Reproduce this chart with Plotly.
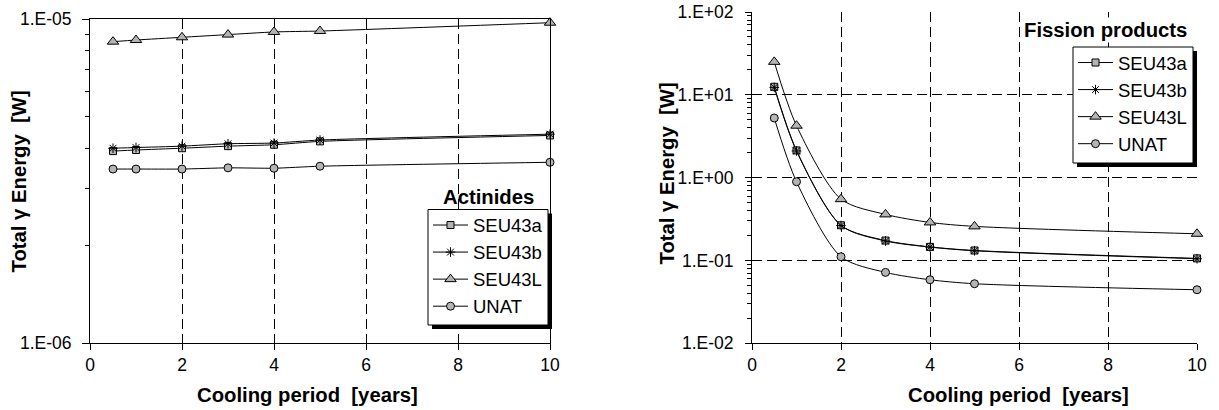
import plotly.graph_objects as go

W, H = 1219, 410
FONT = "Arial, Liberation Sans, sans-serif"

years = [0.5, 1, 2, 3, 4, 5, 10]
series = ["SEU43a", "SEU43b", "SEU43L", "UNAT"]

act_SEU43a = [3.92e-6, 3.95e-6, 4.00e-6, 4.06e-6, 4.10e-6, 4.20e-6, 4.38e-6]
act_SEU43b = [4.00e-6, 4.02e-6, 4.06e-6, 4.13e-6, 4.15e-6, 4.24e-6, 4.42e-6]
act_SEU43L = [8.53e-6, 8.63e-6, 8.80e-6, 8.97e-6, 9.14e-6, 9.20e-6, 9.76e-6]
act_UNAT = [3.45e-6, 3.45e-6, 3.45e-6, 3.48e-6, 3.47e-6, 3.52e-6, 3.62e-6]

fp_SEU43a = [12.5, 2.13, 0.266, 0.174, 0.146, 0.132, 0.106]
fp_SEU43b = [12.3, 2.10, 0.264, 0.172, 0.145, 0.131, 0.105]
fp_SEU43L = [25.0, 4.24, 0.55, 0.36, 0.288, 0.258, 0.21]
fp_UNAT = [5.25, 0.893, 0.111, 0.0718, 0.0585, 0.0524, 0.0443]

act_ticks = [1e-6, 1e-5]
act_ticktext = ["1.E-06", "1.E-05"]
fp_ticks = [1e-2, 1e-1, 1e0, 1e1, 1e2]
fp_ticktext = ["1.E-02", "1.E-01", "1.E+00", "1.E+01", "1.E+02"]
x_ticks = [0, 2, 4, 6, 8, 10]

GRAY = "#b4b4b4"
styles = {
    "SEU43a": dict(symbol="square", size=7, color=GRAY, line=dict(color="black", width=1)),
    "SEU43b": dict(symbol="asterisk-open", size=8, color="black", line=dict(color="black", width=1)),
    "SEU43L": dict(symbol="triangle-up", size=10, color=GRAY, line=dict(color="black", width=1)),
    "UNAT": dict(symbol="circle", size=8, color=GRAY, line=dict(color="black", width=1)),
}

def px(x):
    return x / W

def py(y):
    return 1 - y / H

fig = go.Figure()

act = dict(zip(series, [act_SEU43a, act_SEU43b, act_SEU43L, act_UNAT]))
fp = dict(zip(series, [fp_SEU43a, fp_SEU43b, fp_SEU43L, fp_UNAT]))

for s in series:
    fig.add_trace(go.Scatter(
        x=years, y=act[s], name=s, mode="lines+markers",
        line=dict(color="black", width=1, shape="spline", smoothing=0.6),
        marker=styles[s], xaxis="x", yaxis="y", legend="legend",
        legendgroup="a" + s, cliponaxis=False))
for s in series:
    fig.add_trace(go.Scatter(
        x=years, y=fp[s], name=s, mode="lines+markers",
        line=dict(color="black", width=1, shape="spline", smoothing=0.8),
        marker=styles[s], xaxis="x2", yaxis="y2", legend="legend2",
        legendgroup="f" + s, cliponaxis=False))

tickfont = dict(family=FONT, size=17.5, color="black")
dash = "10px,5px"

common_x = dict(range=[0, 10], tickvals=x_ticks, ticks="outside", ticklen=6,
                tickcolor="black", showline=True, linecolor="black", linewidth=1,
                tickfont=tickfont, zeroline=False, showgrid=True,
                gridcolor="black", gridwidth=1, griddash=dash,
                ticklabelstandoff=0, automargin=False)

legend_common = dict(xanchor="left", yanchor="top",
                     bgcolor="rgba(0,0,0,0)", borderwidth=0,
                     font=dict(family=FONT, size=18.5, color="black"),
                     traceorder="grouped", tracegroupgap=0, itemwidth=35)

# legend box geometry in pixels: (left, top, right, bottom)
box_act = (428, 209.5, 548, 325)
box_fp = (1073, 47, 1193, 163)

fig.update_layout(
    template="none",
    width=W, height=H, margin=dict(l=0, r=0, t=0, b=0, pad=0, autoexpand=False),
    paper_bgcolor="white", plot_bgcolor="white",
    font=dict(family=FONT, size=16, color="black"),
    xaxis=dict(domain=[px(90), px(550)], anchor="y", mirror=True, **common_x),
    yaxis=dict(domain=[py(343.3), py(19.3)], anchor="x", type="log",
               range=[-6, -5], tickvals=act_ticks, ticktext=act_ticktext,
               ticks="outside", ticklen=7, tickcolor="black",
               showline=True, linecolor="black", linewidth=1, mirror=True,
               showgrid=False, zeroline=False, tickfont=tickfont,
               ticklabelstandoff=7, automargin=False,
               minor=dict(tickvals=[k * 1e-6 for k in range(2, 10)],
                          ticks="outside", ticklen=4, tickcolor="black",
                          showgrid=False)),
    xaxis2=dict(domain=[px(752), px(1197)], anchor="y2", **common_x),
    yaxis2=dict(domain=[py(343.3), py(12)], anchor="x2", type="log",
                range=[-2, 2], tickvals=fp_ticks, ticktext=fp_ticktext,
                ticks="outside", ticklen=6, tickcolor="black",
                showline=True, linecolor="black", linewidth=1,
                showgrid=True, gridcolor="black", gridwidth=1, griddash=dash,
                zeroline=False, tickfont=tickfont, ticklabelstandoff=8,
                automargin=False,
                minor=dict(tickvals=[k * 10.0 ** e for e in range(-2, 2) for k in range(2, 10)],
                           ticks="outside", ticklen=4, tickcolor="black",
                           showgrid=False)),
    legend=dict(x=px(box_act[0]), y=py(box_act[1] - 3), **legend_common),
    legend2=dict(x=px(box_fp[0]), y=py(box_fp[1] - 3), **legend_common),
    showlegend=True,
)

# legend frames with drop shadows
for (l, t, r, b) in [box_act, box_fp]:
    fig.add_shape(type="rect", xref="paper", yref="paper",
                  x0=px(l + 4), x1=px(r + 4), y0=py(b + 4), y1=py(t + 4),
                  fillcolor="black", line=dict(width=0), layer="above")
    fig.add_shape(type="rect", xref="paper", yref="paper",
                  x0=px(l), x1=px(r), y0=py(b), y1=py(t),
                  fillcolor="white", line=dict(color="black", width=1), layer="above")

bold = dict(family=FONT, size=20.3, color="black", weight="bold")
ann = [
    dict(text="Total γ Energy  [W]", x=px(19), y=py(181.5), textangle=-90),
    dict(text="Total γ Energy  [W]", x=px(666.5), y=py(174), textangle=-90),
    dict(text="Cooling period  [years]", x=px(307), y=py(395)),
    dict(text="Cooling period  [years]", x=px(1018), y=py(395)),
]
for a in ann:
    fig.add_annotation(xref="paper", yref="paper", showarrow=False,
                       xanchor="center", yanchor="middle", font=bold, **a)
fig.add_annotation(text="Actinides", xref="paper", yref="paper", x=px(536), y=py(197),
                   xanchor="right", yanchor="middle", showarrow=False, font=bold)
fig.add_annotation(text="Fission products", xref="paper", yref="paper", x=px(1189), y=py(30),
                   xanchor="right", yanchor="middle", showarrow=False, font=bold,
                   bgcolor="white")

fig.write_html("out.html",
               config={"displayModeBar": False},
               post_script="document.body.style.margin='0';document.body.style.overflow='hidden';")
